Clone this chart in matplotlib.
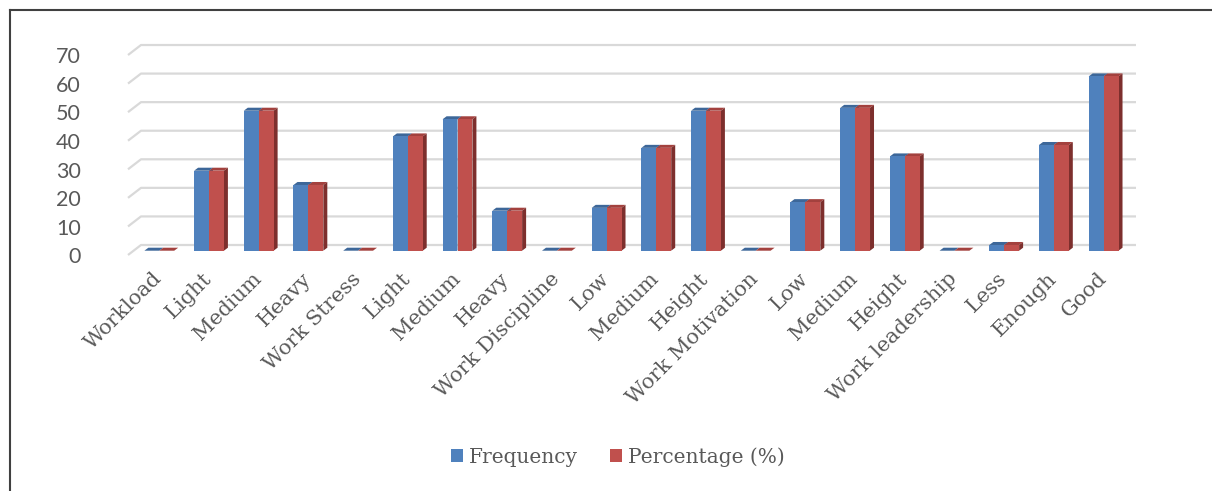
import numpy as np
import matplotlib.pyplot as plt
from matplotlib.patches import Polygon, Patch
from matplotlib.lines import Line2D
from matplotlib.transforms import ScaledTranslation

# kategorie i wartości
categories = ['Workload', 'Light', 'Medium', 'Heavy',
              'Work Stress', 'Light', 'Medium', 'Heavy',
              'Work Discipline', 'Low', 'Medium', 'Height',
              'Work Motivation', 'Low', 'Medium', 'Height',
              'Work leadership', 'Less', 'Enough', 'Good']
frequency = [0, 28, 49, 23, 0, 40, 46, 14, 0, 15, 36, 49, 0, 17, 50, 33, 0, 2, 37, 61]
percentage = [0, 28, 49, 23, 0, 40, 46, 14, 0, 15, 36, 49, 0, 17, 50, 33, 0, 2, 37, 61]
y_ticks = [0, 10, 20, 30, 40, 50, 60, 70]

blue, blue_top = '#4f81bd', '#3d6799'
red, red_top, red_side = '#c0504d', '#a3413e', '#7d2f2d'
szary = '#595959'

W, H = 1212, 491
fig = plt.figure(figsize=(W / 100, H / 100), dpi=100)

# osie w pikselach: kategoria i -> 159.3 + 49.7*i, wartosc 0 -> y=250.7, 10 -> 28.57 px
px_x = 49.7
px_y = 2.857
ax_l, ax_r = 100, 1150
ax_t, ax_b = 30, 262
ax = fig.add_axes([ax_l / W, 1 - ax_b / H, (ax_r - ax_l) / W, (ax_b - ax_t) / H])
ax.set_xlim((ax_l - 159.3) / px_x, (ax_r - 159.3) / px_x)
ax.set_ylim(-(ax_b - 250.7) / px_y, (250.7 - ax_t) / px_y)
for s in ax.spines.values():
    s.set_visible(False)

# tylna ściana - linie siatki z ukośnym początkiem
back = 5.7 / px_y
low = 4.3 / px_y
gx0 = (128 - 159.3) / px_x
gx1 = (141 - 159.3) / px_x
gx2 = (1136 - 159.3) / px_x
for v in y_ticks:
    ax.plot([gx0, gx1, gx2], [v - low, v + back, v + back],
            color='#d9d9d9', lw=1.6, zorder=1, solid_capstyle='butt')

# słupki 3D: przód, góra i bok
szer = 0.30
dx = 4 / px_x
dy = 3 / px_y
pozycja = np.arange(len(categories))


def slupek(x, h, front, top, side):
    ax.add_patch(Polygon([(x, h), (x + szer, h), (x + szer + dx, h + dy), (x + dx, h + dy)],
                         closed=True, facecolor=top, edgecolor='none', zorder=3))
    if h > 0:
        ax.add_patch(Polygon([(x + szer, 0), (x + szer + dx, dy), (x + szer + dx, h + dy), (x + szer, h)],
                             closed=True, facecolor=side, edgecolor='none', zorder=3))


for i in pozycja:
    slupek(i - szer, frequency[i], blue, blue_top, blue_top)
    slupek(i, percentage[i], red, red_top, red_side)

ax.bar(pozycja - szer / 2, frequency, szer, color=blue, zorder=4, linewidth=0)
ax.bar(pozycja + szer / 2, percentage, szer, color=red, zorder=4, linewidth=0)

# etykiety osi
ax.set_yticks(np.array(y_ticks) - 1.6)
ax.set_yticklabels([str(v) for v in y_ticks], fontfamily='Lato', fontsize=15.5, color=szary)
ax.tick_params(axis='y', length=0, pad=14)

ax.set_xticks(pozycja)
ax.set_xticklabels(categories, rotation=45, ha='right', rotation_mode='anchor',
                   fontfamily='DejaVu Serif', fontsize=15, color=szary)
ax.tick_params(axis='x', length=0, pad=5)
przes = ScaledTranslation(-7 / 100, 0, fig.dpi_scale_trans)
for lab in ax.get_xticklabels():
    lab.set_transform(lab.get_transform() + przes)

# legenda
uchwyty = [Patch(facecolor=blue, edgecolor='none'), Patch(facecolor=red, edgecolor='none')]
fig.legend(uchwyty, ['Frequency', 'Percentage (%)'], loc='center',
           bbox_to_anchor=(618 / W, 1 - 457 / H), ncol=2, frameon=False,
           prop={'family': 'DejaVu Serif', 'size': 14.5}, labelcolor=szary,
           handlelength=0.6, handleheight=0.6, handletextpad=0.3, columnspacing=1.6)

# ramka (lewa i górna krawędź)
fig.add_artist(Line2D([9.5 / W, 9.5 / W], [0, 1 - 9.5 / H], color='#404040', lw=1.5))
fig.add_artist(Line2D([9.5 / W, 1], [1 - 9.5 / H, 1 - 9.5 / H], color='#404040', lw=1.5))

fig.savefig('out.png', dpi=100)
